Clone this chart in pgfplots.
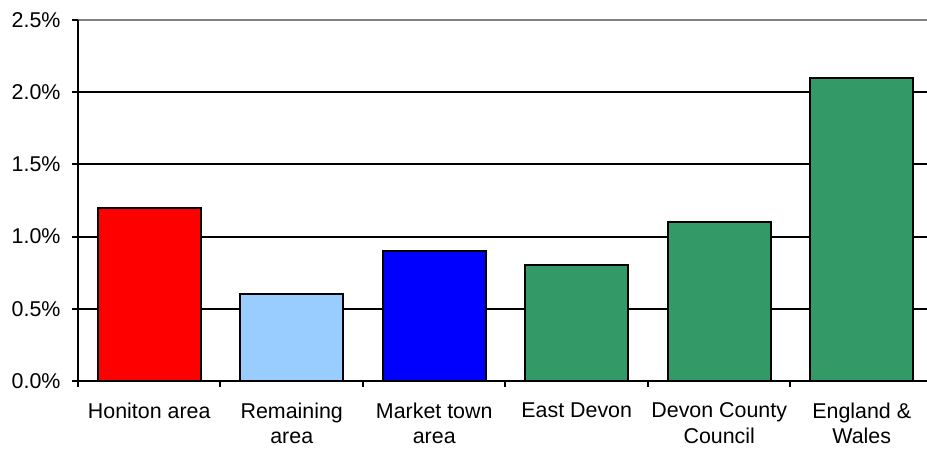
\documentclass[border=0pt]{standalone}
\usepackage{fontspec}
\setmainfont{Liberation Sans}
\usepackage{pgfplots}
\pgfplotsset{compat=1.18}

\definecolor{barred}{HTML}{FF0000}
\definecolor{barlight}{HTML}{99CCFF}
\definecolor{barblue}{HTML}{0000FF}
\definecolor{bargreen}{HTML}{339966}

\begin{document}
\fontsize{10.7}{12.6}\selectfont
\begin{tikzpicture}
  \begin{axis}[name=ax,
      scale only axis,
      width=427.5pt, height=180.5pt,
      xmin=-0.5, xmax=5.5,
      ymin=0, ymax=2.5,
      ybar, bar width=0.72, bar shift=0pt,
      axis line style={draw=none},
      xtick pos=bottom, ytick pos=left,
      xtick={0,1,2,3,4,5},
      xticklabels={Honiton area, {Remaining\\area}, {Market town\\area}, East Devon, {Devon County\\Council}, {England \&\\Wales}},
      xticklabel style={align=center, yshift=-4pt},
      major x tick style={draw=none},
      minor xtick={-0.5,0.5,1.5,2.5,3.5,4.5,5.5},
      minor x tick style={black, line width=1pt},
      minor tick length=3pt,
      ytick={0,0.5,1,1.5,2,2.5},
      yticklabels={0.0\%,0.5\%,1.0\%,1.5\%,2.0\%,2.5\%},
      grid style={black, line width=1pt},
      major y tick style={black, line width=1pt},
      major tick length=3pt,
      tick align=outside,
      yticklabel style={xshift=-2pt},
      ticklabel style={font=\fontsize{10.7}{12.8}\selectfont},
      clip=false,
    ]
    \draw[black, line width=1pt] (axis cs:-0.5,0.5) -- (axis cs:5.5,0.5);
    \draw[black, line width=1pt] (axis cs:-0.5,1.0) -- (axis cs:5.5,1.0);
    \draw[black, line width=1pt] (axis cs:-0.5,1.5) -- (axis cs:5.5,1.5);
    \draw[black, line width=1pt] (axis cs:-0.5,2.0) -- (axis cs:5.5,2.0);
    \draw[gray, line width=1.3pt] (axis cs:-0.5,2.5) -- (axis cs:5.5,2.5);
    \addplot[fill=barred, draw=black, line width=1pt] coordinates {(0,1.2)};
    \addplot[fill=barlight, draw=black, line width=1pt] coordinates {(1,0.6)};
    \addplot[fill=barblue, draw=black, line width=1pt] coordinates {(2,0.9)};
    \addplot[fill=bargreen, draw=black, line width=1pt] coordinates {(3,0.8) (4,1.1) (5,2.1)};
    \draw[black, line width=1.4pt] (axis cs:-0.5,2.5) -- (axis cs:-0.5,0) -- (axis cs:5.5,0);
  \end{axis}
  \pgfresetboundingbox
  \path ([xshift=-39pt, yshift=-37pt]ax.south west) rectangle ([xshift=424.5pt, yshift=190.5pt]ax.south west);
\end{tikzpicture}
\end{document}
